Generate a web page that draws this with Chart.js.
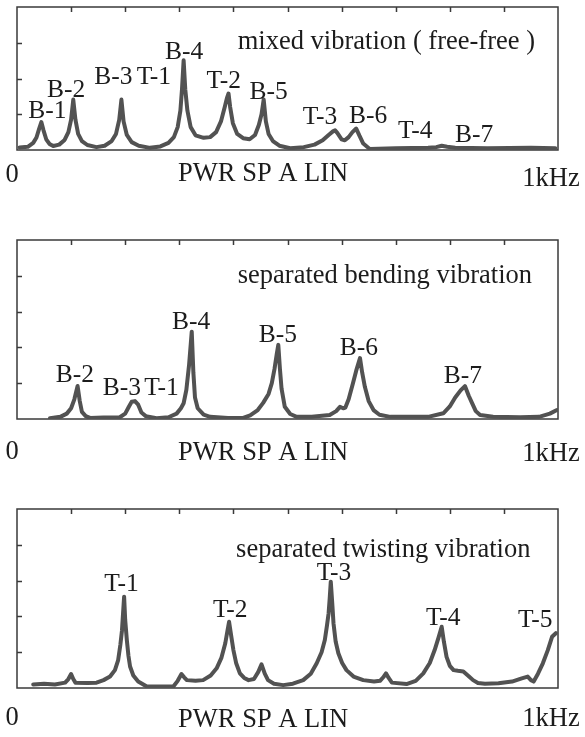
<!DOCTYPE html>
<html><head><meta charset="utf-8">
<script src="https://cdn.jsdelivr.net/npm/chart.js@4.4.1/dist/chart.umd.min.js"></script>
<style>
html,body{margin:0;padding:0;background:#fff;}
body{width:585px;height:737px;position:relative;overflow:hidden;}
.p{position:absolute;left:0;width:585px;}
</style></head><body>
<div class="p" style="top:0;height:200px"><canvas id="c1"></canvas></div>
<div class="p" style="top:230px;height:240px"><canvas id="c2"></canvas></div>
<div class="p" style="top:498px;height:239px"><canvas id="c3"></canvas></div>
<script>
// ---- data (frequency in Hz, amplitude in divisions) ----
const xTickValues = [100,200,300,400,500,600,700,800,900];
const axisLabels = ['0','PWR SP A LIN','1kHz'];

const mixedSpectrum = [[5,0.07],[20,0.09],[30,0.2],[36,0.35],[41,0.6],[45,0.78],[49,0.55],[54,0.3],[60,0.17],[67,0.11],[78,0.15],[88,0.28],[95,0.5],[100,0.85],[104,1.41],[108,0.85],[113,0.45],[120,0.25],[130,0.14],[147,0.08],[162,0.12],[175,0.25],[183,0.45],[189,0.85],[193,1.41],[197,0.8],[203,0.42],[212,0.22],[225,0.12],[246,0.06],[265,0.1],[280,0.2],[290,0.36],[297,0.64],[302,1.1],[305,1.7],[308,2.51],[311,1.7],[315,1.1],[321,0.64],[330,0.41],[345,0.34],[357,0.36],[368,0.5],[377,0.8],[384,1.2],[388,1.45],[391,1.58],[394,1.2],[399,0.75],[407,0.45],[418,0.33],[430,0.3],[440,0.42],[447,0.7],[452,1.0],[456,1.41],[460,0.8],[465,0.45],[473,0.25],[485,0.12],[505,0.05],[530,0.08],[550,0.15],[565,0.27],[576,0.42],[584,0.52],[588,0.55],[592,0.48],[600,0.3],[606,0.27],[613,0.36],[620,0.5],[627,0.6],[633,0.4],[640,0.18],[652,0.03],[700,0.05],[760,0.06],[775,0.08],[785,0.12],[795,0.09],[810,0.06],[870,0.05],[950,0.06],[995,0.05]];
const mixedLabels = [['B-1',56,1.08],['B-2',91,1.67],['B-3',178,2.04],['T-1',253,2.04],['B-4',309,2.74],['T-2',382,1.92],['B-5',465,1.62],['T-3',560,0.91],['B-6',649,0.94],['T-4',736,0.52],['B-7',845,0.41]];
const mixedTitle = ['mixed vibration ( free-free )',408,3.02];

const bendingSpectrum = [[61,0.02],[80,0.06],[92,0.15],[100,0.3],[106,0.55],[112,0.92],[116,0.5],[120,0.2],[127,0.08],[135,0.03],[160,0.04],[190,0.05],[200,0.15],[207,0.35],[212,0.48],[218,0.5],[224,0.4],[230,0.18],[238,0.08],[258,0.02],[280,0.05],[295,0.15],[303,0.3],[308,0.44],[313,0.81],[318,1.5],[323,2.44],[326,1.3],[329,0.6],[334,0.3],[345,0.12],[357,0.06],[390,0.03],[418,0.03],[431,0.1],[445,0.25],[455,0.45],[465,0.7],[471,1.0],[476,1.4],[480,1.8],[483,2.07],[486,1.4],[489,0.85],[495,0.34],[505,0.14],[517,0.06],[545,0.06],[578,0.11],[590,0.22],[597,0.34],[603,0.3],[607,0.32],[613,0.55],[621,1.0],[627,1.35],[634,1.7],[638,1.3],[643,0.9],[650,0.5],[659,0.25],[670,0.12],[690,0.06],[760,0.06],[788,0.16],[800,0.35],[810,0.6],[820,0.8],[828,0.92],[835,0.65],[841,0.45],[848,0.22],[856,0.11],[880,0.06],[930,0.05],[965,0.06],[985,0.15],[998,0.25]];
const bendingLabels = [['B-2',107,1.23],['B-3',194,0.87],['T-1',267,0.87],['B-4',322,2.71],['B-5',482,2.35],['B-6',632,1.98],['B-7',824,1.2]];
const bendingTitle = ['separated bending vibration',408,3.99];

const twistingSpectrum = [[30,0.1],[50,0.12],[70,0.1],[89,0.15],[95,0.25],[100,0.39],[104,0.25],[108,0.15],[130,0.14],[147,0.15],[160,0.22],[172,0.32],[181,0.5],[187,0.78],[191,1.2],[194,1.6],[198,2.55],[200,1.9],[203,1.34],[206,0.9],[209,0.6],[215,0.35],[224,0.18],[240,0.04],[289,0.04],[297,0.2],[304,0.39],[309,0.3],[314,0.22],[330,0.2],[344,0.22],[358,0.35],[369,0.55],[378,0.85],[385,1.25],[389,1.6],[392,1.85],[396,1.45],[400,1.06],[405,0.7],[412,0.41],[420,0.28],[428,0.22],[438,0.25],[446,0.45],[452,0.66],[458,0.4],[464,0.22],[475,0.12],[492,0.08],[510,0.12],[529,0.22],[543,0.4],[554,0.69],[563,1.0],[569,1.34],[573,1.75],[576,2.09],[578,2.5],[580,2.97],[583,2.3],[585,1.81],[589,1.3],[594,0.97],[601,0.7],[609,0.5],[622,0.32],[640,0.22],[660,0.18],[671,0.2],[677,0.3],[682,0.41],[687,0.28],[693,0.15],[720,0.11],[737,0.2],[751,0.41],[763,0.7],[772,1.06],[779,1.4],[785,1.71],[789,1.3],[794,0.87],[800,0.62],[807,0.5],[815,0.48],[825,0.46],[835,0.33],[843,0.22],[852,0.14],[865,0.12],[890,0.13],[915,0.18],[933,0.27],[944,0.32],[950,0.22],[955,0.18],[963,0.4],[972,0.69],[981,1.05],[989,1.43],[996,1.53]];
const twistingLabels = [['T-1',193,2.9],['T-2',394,2.18],['T-3',586,3.21],['T-4',788,1.96],['T-5',958,1.9]];
const twistingTitle = ['separated twisting vibration',405,3.85];

// ---- drawing ----
const FONT = '"Liberation Serif", "Times New Roman", serif';
const INK = '#1c1c1c';

function deco(labels, title, yMax, axisTextY) {
  return {
    id: 'deco',
    beforeDatasetsDraw(chart) {
      const {ctx, chartArea: a, scales: {x, y}} = chart;
      ctx.save();
      ctx.strokeStyle = '#3a3a3a';
      ctx.lineWidth = 1.5;
      ctx.strokeRect(a.left, a.top, a.right - a.left, a.bottom - a.top);
      ctx.beginPath();
      xTickValues.forEach(v => {
        const px = Math.round(x.getPixelForValue(v)) + 0.5;
        ctx.moveTo(px, a.top); ctx.lineTo(px, a.top + 5);
      });
      for (let v = 1; v < yMax; v++) {
        const py = Math.round(y.getPixelForValue(v)) + 0.5;
        ctx.moveTo(a.left, py); ctx.lineTo(a.left + 5, py);
      }
      ctx.stroke();
      ctx.restore();
    },
    afterDatasetsDraw(chart) {
      const {ctx, chartArea: a, scales: {x, y}} = chart;
      ctx.save();
      ctx.fillStyle = INK;
      ctx.font = '25.5px ' + FONT;
      ctx.textBaseline = 'middle';
      ctx.textAlign = 'center';
      labels.forEach(([t, f, v]) => ctx.fillText(t, x.getPixelForValue(f), y.getPixelForValue(v)));
      ctx.font = '26.5px ' + FONT;
      ctx.textAlign = 'left';
      ctx.fillText(title[0], x.getPixelForValue(title[1]), y.getPixelForValue(title[2]));
      ctx.font = '26.5px ' + FONT;
      ctx.textAlign = 'center';
      ctx.fillText(axisLabels[0], x.getPixelForValue(0) - 5, a.bottom + axisTextY[0]);
      ctx.fillText(axisLabels[1], x.getPixelForValue(455), a.bottom + axisTextY[1]);
      ctx.fillText(axisLabels[2], x.getPixelForValue(1000) - 7, a.bottom + axisTextY[2]);
      ctx.restore();
    }
  };
}

function makeChart(id, spectrum, labels, title, yMax, pad, axisTextY) {
  new Chart(document.getElementById(id), {
    type: 'line',
    data: {
      datasets: [{
        data: spectrum.map(([f, a]) => ({x: f, y: a})),
        borderColor: '#525252',
        borderWidth: 4,
        pointRadius: 0,
        tension: 0,
        fill: false,
        borderJoinStyle: 'round',
        borderCapStyle: 'round'
      }]
    },
    options: {
      responsive: true,
      maintainAspectRatio: false,
      animation: false,
      devicePixelRatio: 1,
      layout: {padding: pad},
      plugins: {legend: {display: false}, tooltip: {enabled: false}},
      scales: {
        x: {type: 'linear', min: 0, max: 1000, display: false},
        y: {type: 'linear', min: 0, max: yMax, display: false}
      }
    },
    plugins: [deco(labels, title, yMax, axisTextY)]
  });
}

makeChart('c1', mixedSpectrum, mixedLabels, mixedTitle, 4, {left: 17, right: 27, top: 7, bottom: 50}, [25, 24, 29]);
makeChart('c2', bendingSpectrum, bendingLabels, bendingTitle, 5, {left: 17, right: 27, top: 10, bottom: 51}, [33, 34, 35]);
makeChart('c3', twistingSpectrum, twistingLabels, twistingTitle, 5, {left: 17, right: 27, top: 11, bottom: 49}, [30, 32, 31]);
</script>
</body></html>
